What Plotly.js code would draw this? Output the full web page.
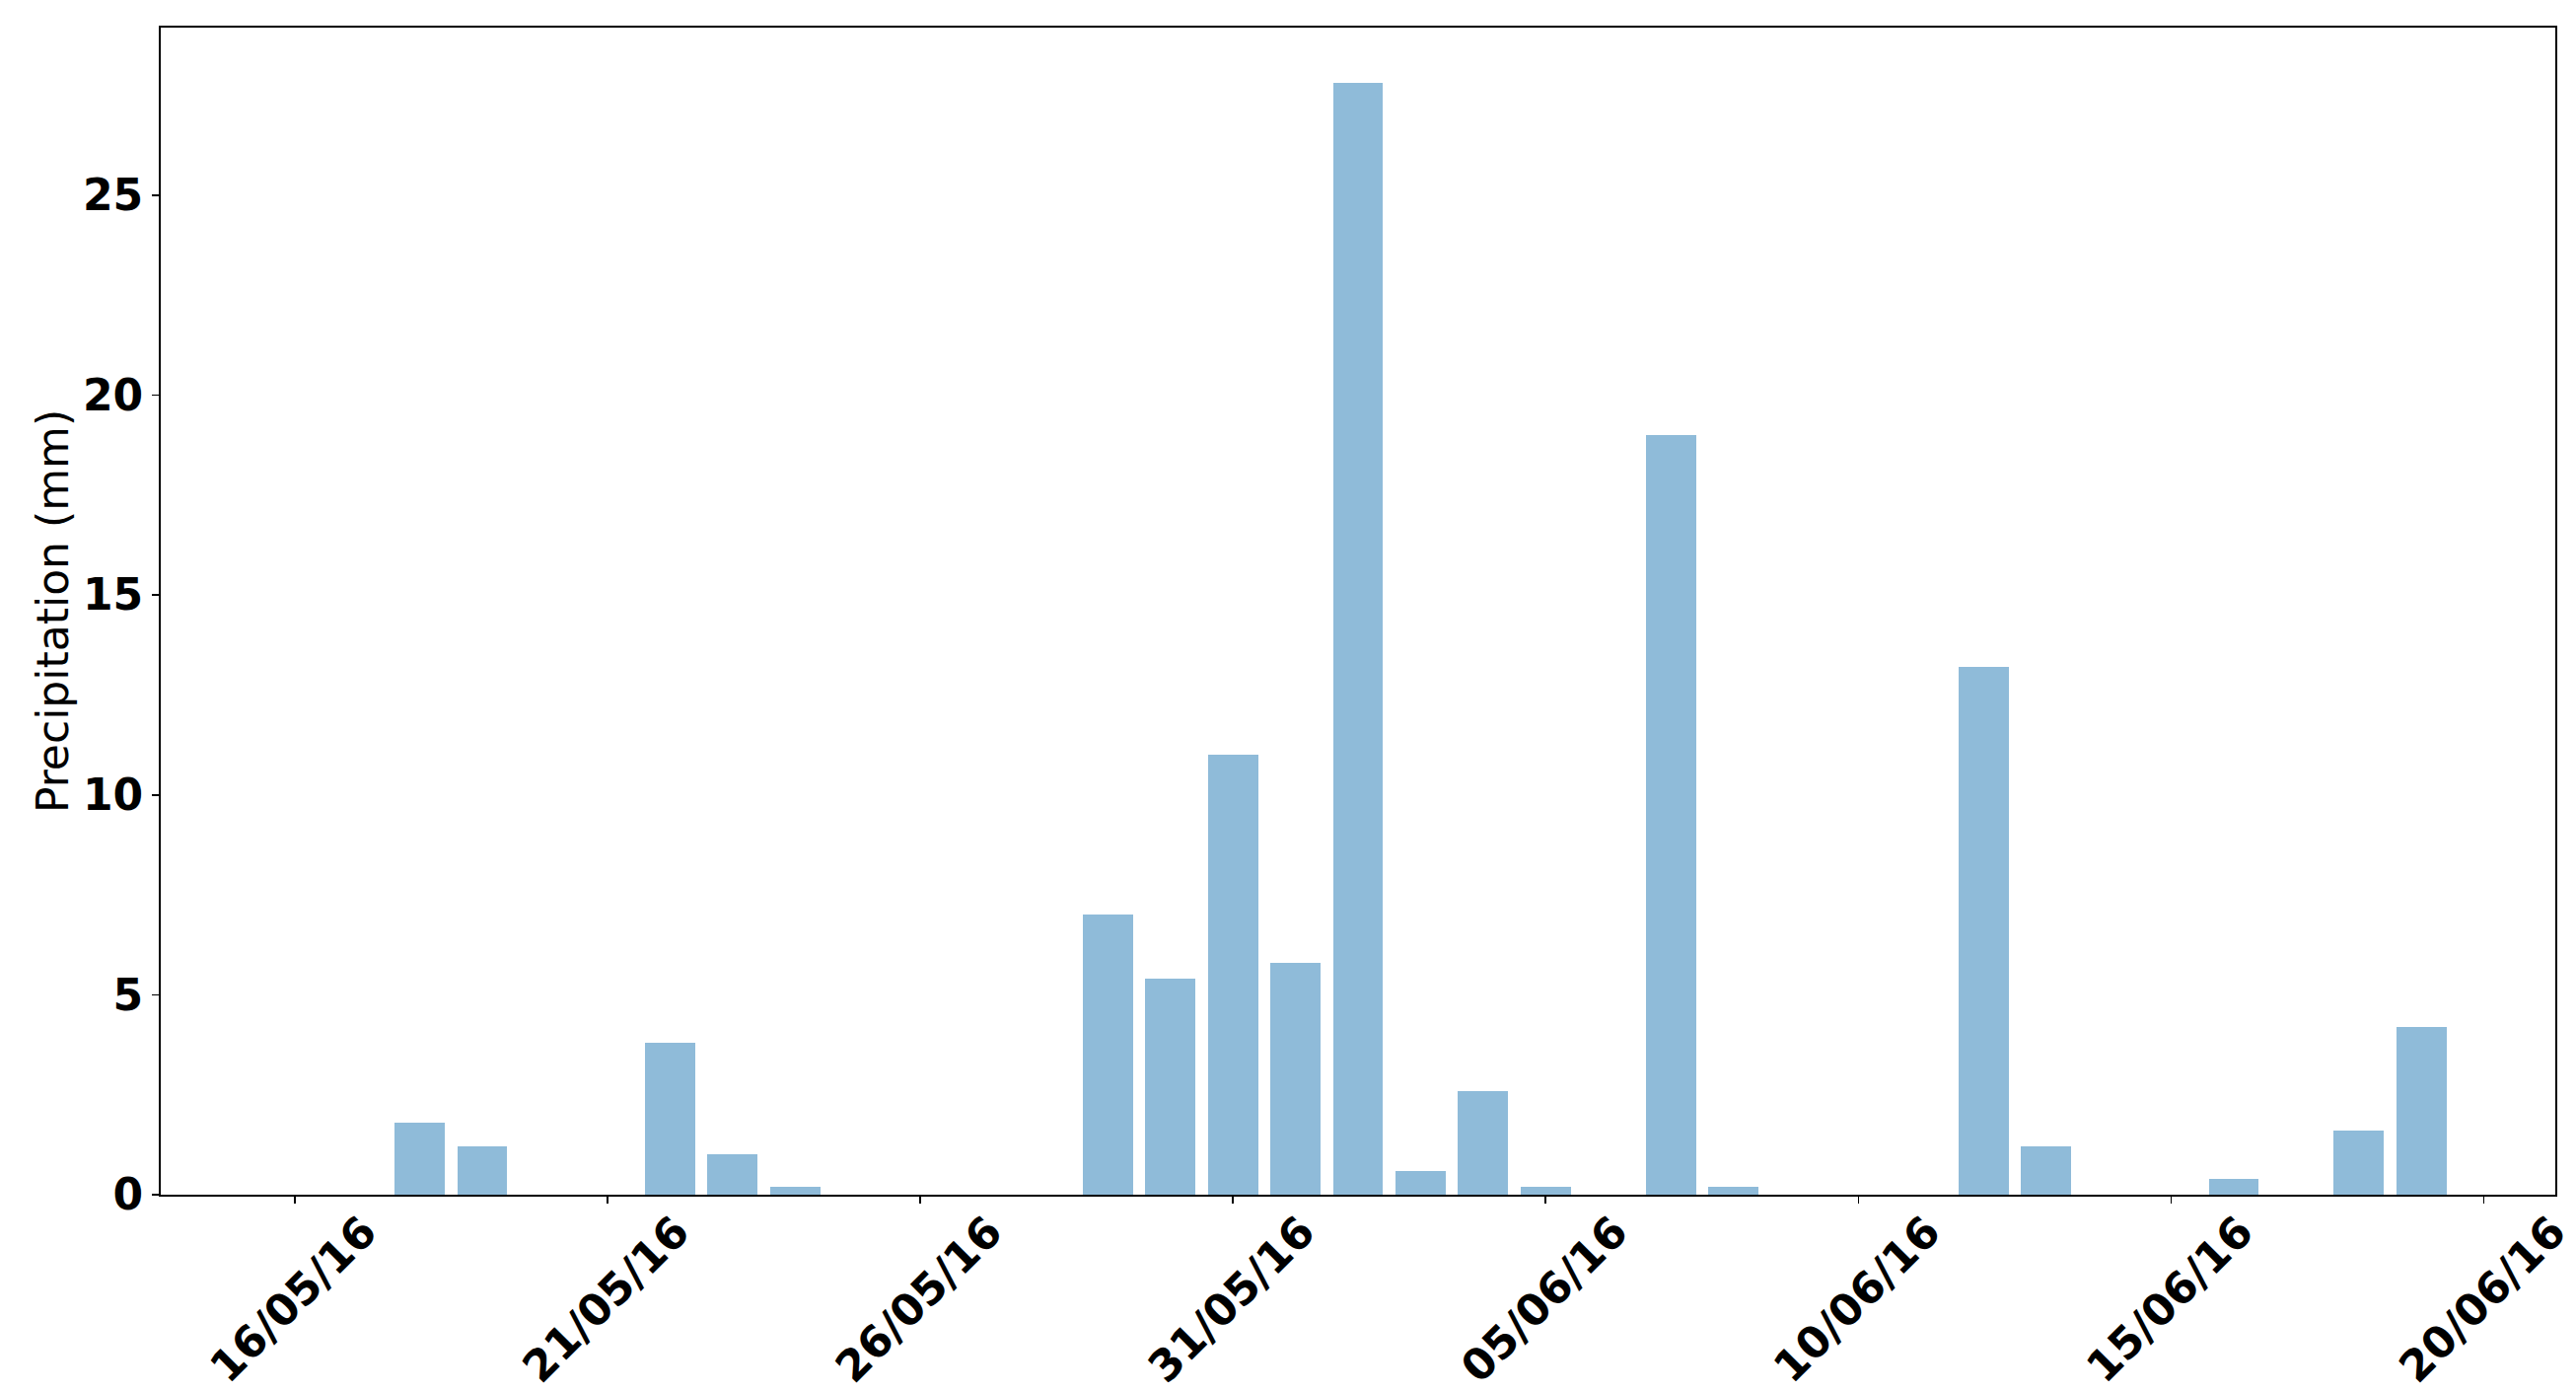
<!DOCTYPE html>
<html>
<head>
<meta charset="utf-8">
<script src="https://cdn.plot.ly/plotly-3.0.1.min.js"></script>
<style>html,body{margin:0;padding:0;background:#fff;}#chart{width:2612px;height:1411px;}</style>
</head>
<body>
<div id="chart"></div>
<script>
const dates = [
  '2016-05-16','2016-05-17','2016-05-18','2016-05-19','2016-05-20','2016-05-21','2016-05-22',
  '2016-05-23','2016-05-24','2016-05-25','2016-05-26','2016-05-27','2016-05-28','2016-05-29',
  '2016-05-30','2016-05-31','2016-06-01','2016-06-02','2016-06-03','2016-06-04','2016-06-05',
  '2016-06-06','2016-06-07','2016-06-08','2016-06-09','2016-06-10','2016-06-11','2016-06-12',
  '2016-06-13','2016-06-14','2016-06-15','2016-06-16','2016-06-17','2016-06-18','2016-06-19'
];
const precipitation = [
  0, 0, 1.8, 1.2, 0, 0, 3.8,
  1.0, 0.2, 0, 0, 0, 0, 7.0,
  5.4, 11.0, 5.8, 27.8, 0.6, 2.6, 0.2,
  0, 19.0, 0.2, 0, 0, 0, 13.2,
  1.2, 0, 0, 0.4, 0, 1.6, 4.2
];
const tickDates = ['2016-05-16','2016-05-21','2016-05-26','2016-05-31','2016-06-05','2016-06-10','2016-06-15','2016-06-20'];
const tickLabels = ['16/05/16','21/05/16','26/05/16','31/05/16','05/06/16','10/06/16','15/06/16','20/06/16'];
const yTicks = [0, 5, 10, 15, 20, 25];
const yTitle = 'Precipitation (mm)';

const DAY = 86400000;
const trace = {
  type: 'bar',
  x: dates,
  y: precipitation,
  width: 0.8 * DAY,
  marker: {color: 'rgba(31,119,180,0.5)', line: {width: 0}},
  hoverinfo: 'x+y'
};

const fontSize = 44;
const layout = {
  width: 2612, height: 1411,
  paper_bgcolor: '#ffffff', plot_bgcolor: '#ffffff',
  margin: {l: 163, r: 21, t: 28, b: 200, pad: 0},
  showlegend: false,
  bargap: 0,
  xaxis: {
    type: 'date',
    range: ['2016-05-13 20:38', '2016-06-21 03:22'],
    tickmode: 'array', tickvals: tickDates, ticktext: tickLabels,
    tickangle: -45,
    ticks: 'outside', ticklen: 7, tickwidth: 1.6, tickcolor: '#000',
    ticklabelshift: 70, ticklabelstandoff: -15, ticklabeloverflow: 'allow',
    tickfont: {family: 'DejaVu Sans', size: fontSize, weight: 'bold', color: '#000'},
    showline: true, linecolor: '#000', linewidth: 2, mirror: true,
    showgrid: false, zeroline: false, automargin: false
  },
  yaxis: {
    range: [0, 29.19],
    tickmode: 'array', tickvals: yTicks,
    ticks: 'outside', ticklen: 7, tickwidth: 1.6, tickcolor: '#000',
    tickfont: {family: 'DejaVu Sans', size: fontSize, weight: 'bold', color: '#000'},
    showline: true, linecolor: '#000', linewidth: 2, mirror: true,
    showgrid: false, zeroline: false, automargin: false,
    title: {text: yTitle, font: {family: 'DejaVu Sans', size: fontSize, color: '#000'}, standoff: 1}
  }
};
Plotly.newPlot('chart', [trace], layout, {displayModeBar: false, staticPlot: true});
</script>
</body>
</html>
